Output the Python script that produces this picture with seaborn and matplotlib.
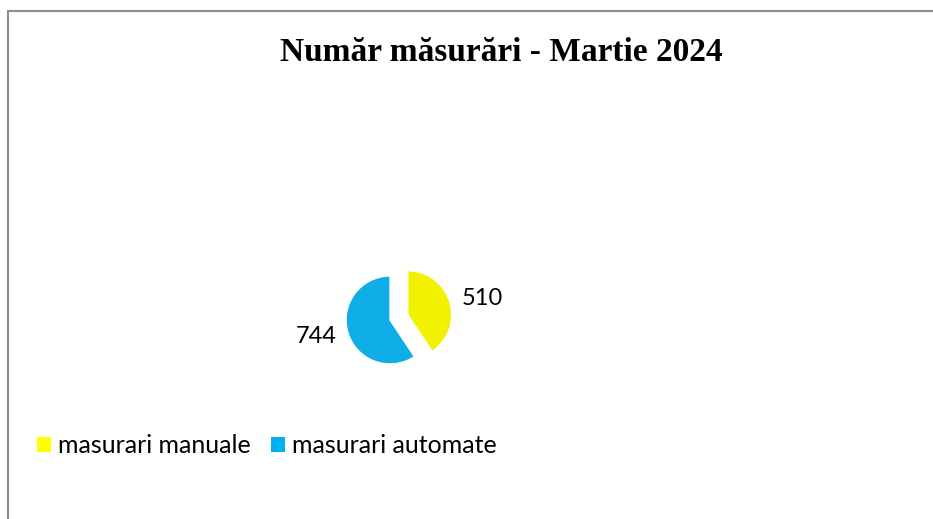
import numpy as np
import pandas as pd
import seaborn as sns
import matplotlib.pyplot as plt
from matplotlib.lines import Line2D
from matplotlib.patches import Patch

categories = ["masurari manuale", "masurari automate"]
values = [510, 744]
colors = ["#F2F200", "#10AEE8"]
legend_colors = ["#FFFF00", "#00B0F0"]
title = "Număr măsurări - Martie 2024"

sns.set_theme(style="white")
plt.rcParams['font.family'] = ['Lato', 'DejaVu Sans']
plt.rcParams['text.color'] = 'black'

df = pd.DataFrame({"cat": categories, "val": values})

fig = plt.figure(figsize=(9.33, 5.19), dpi=100)
ax = fig.add_axes([0.3473, 0.2563, 0.1415, 0.2543])
wedges, texts = ax.pie(df["val"], colors=colors, startangle=90, counterclock=False,
                       explode=[0.42, 0], labels=[str(v) for v in df["val"]],
                       labeldistance=1.27, textprops={"fontsize": 17, "color": "black"})
ax.set_xlim(-1.5, 1.5)
ax.set_ylim(-1.5, 1.5)
ax.set_aspect("equal")
ax.axis("off")

fig.text(0.5375, 0.898, title, ha="center", va="center", fontsize=24,
         fontweight="bold", color="black", family=["Liberation Serif", "DejaVu Serif"])

handles = [Patch(facecolor=c, edgecolor="none") for c in legend_colors]
fig.legend(handles, categories, loc="center left", bbox_to_anchor=(0.0397, 0.1407),
           ncol=2, frameon=False, fontsize=18, handlelength=0.56, handleheight=0.56,
           handletextpad=0.28, columnspacing=0.8, borderpad=0, borderaxespad=0,
           labelcolor="black")

# chart border (top and left only visible)
fig.lines.append(Line2D([0.0086, 1.0], [0.9788, 0.9788], transform=fig.transFigure, color="#8c8c8c", lw=1.5))
fig.lines.append(Line2D([0.0086, 0.0086], [0.0, 0.9788], transform=fig.transFigure, color="#8c8c8c", lw=1.5))

fig.savefig("out.png", dpi=100, facecolor="white")
